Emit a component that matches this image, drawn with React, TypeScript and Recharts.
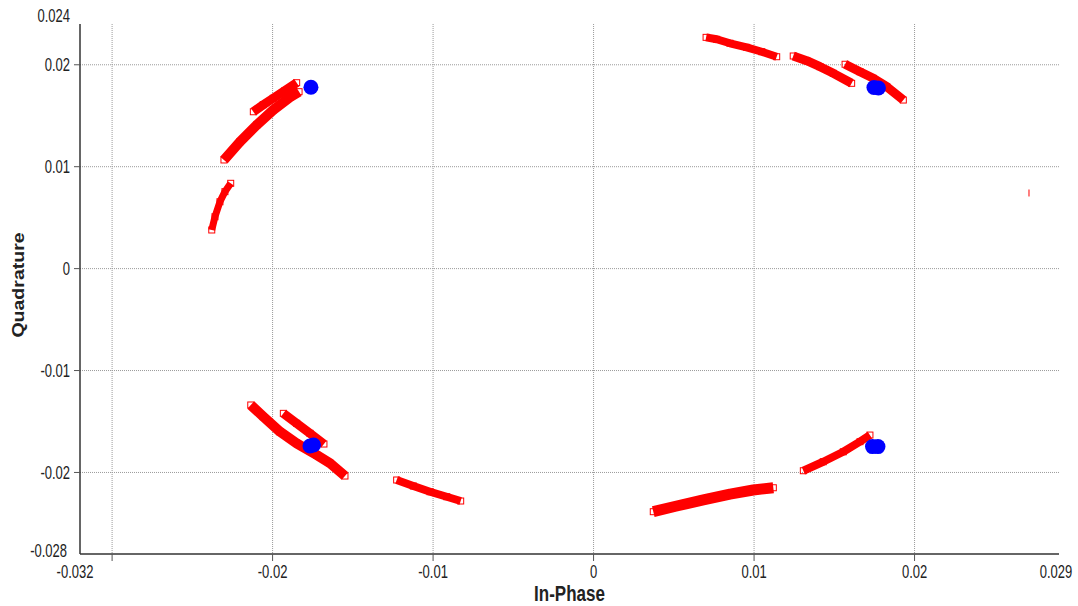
import { ScatterChart, Scatter, XAxis, YAxis, CartesianGrid } from 'recharts'

type Pt = { x: number; y: number }

const xTicks = [-0.032, -0.03, -0.02, -0.01, 0, 0.01, 0.02, 0.029]
const yTicks = [-0.028, -0.02, -0.01, 0, 0.01, 0.02, 0.024]
const xGrid = [-0.03, -0.02, -0.01, 0, 0.01, 0.02]
const yGrid = [-0.02, -0.01, 0, 0.01, 0.02]

// received symbols, one trace per arc
const arcTopLeftUpper: Pt[] = [
  { x: -0.0212, y: 0.01539 }, { x: -0.02058, y: 0.01608 }, { x: -0.01996, y: 0.01671 },
  { x: -0.01923, y: 0.01747 }, { x: -0.0185, y: 0.01824 },
]
const arcTopLeftLower: Pt[] = [
  { x: -0.02303, y: 0.01066 }, { x: -0.02203, y: 0.01245 }, { x: -0.02099, y: 0.01409 },
  { x: -0.01996, y: 0.01556 }, { x: -0.01892, y: 0.01681 }, { x: -0.01835, y: 0.01736 },
]
const arcLeftShort: Pt[] = [
  { x: -0.02379, y: 0.00379 }, { x: -0.02359, y: 0.00509 }, { x: -0.02328, y: 0.00656 },
  { x: -0.02297, y: 0.00755 }, { x: -0.02261, y: 0.00837 },
]
const arcTopA: Pt[] = [
  { x: 0.00701, y: 0.02269 }, { x: 0.00767, y: 0.0225 }, { x: 0.0085, y: 0.02211 },
  { x: 0.00954, y: 0.02171 }, { x: 0.01048, y: 0.02128 }, { x: 0.01141, y: 0.02079 },
]
const arcTopB: Pt[] = [
  { x: 0.01244, y: 0.02086 }, { x: 0.01328, y: 0.0204 }, { x: 0.01411, y: 0.01981 },
  { x: 0.01494, y: 0.01916 }, { x: 0.01608, y: 0.01818 },
]
const arcTopC: Pt[] = [
  { x: 0.01567, y: 0.02005 }, { x: 0.0166, y: 0.01932 }, { x: 0.01743, y: 0.01867 },
  { x: 0.01827, y: 0.01785 }, { x: 0.0193, y: 0.01654 },
]
const arcBottomLeftLong: Pt[] = [
  { x: -0.02136, y: -0.01338 }, { x: -0.02058, y: -0.01453 }, { x: -0.01954, y: -0.016 },
  { x: -0.0185, y: -0.01714 }, { x: -0.01725, y: -0.01829 }, { x: -0.01642, y: -0.0191 },
  { x: -0.01549, y: -0.02035 },
]
const arcBottomLeftShort: Pt[] = [
  { x: -0.01933, y: -0.0142 }, { x: -0.0185, y: -0.01518 }, { x: -0.01767, y: -0.01616 },
  { x: -0.0168, y: -0.01721 },
]
const arcBottomMid: Pt[] = [
  { x: -0.01227, y: -0.02074 }, { x: -0.01123, y: -0.02133 }, { x: -0.01019, y: -0.02189 },
  { x: -0.00915, y: -0.02238 }, { x: -0.00828, y: -0.0228 },
]
const arcBottomRightWide: Pt[] = [
  { x: 0.00372, y: -0.02385 }, { x: 0.00518, y: -0.02329 }, { x: 0.00684, y: -0.0227 },
  { x: 0.0085, y: -0.02212 }, { x: 0.00995, y: -0.02172 }, { x: 0.0112, y: -0.0215 },
]
const arcBottomRightUpper: Pt[] = [
  { x: 0.01307, y: -0.01983 }, { x: 0.01431, y: -0.01895 }, { x: 0.01556, y: -0.01797 },
  { x: 0.0166, y: -0.01698 }, { x: 0.01722, y: -0.01633 },
]

// reference constellation points
const idealPoints: Pt[] = [
  { x: -0.01761, y: 0.01779 },
  { x: 0.01747, y: 0.01777 }, { x: 0.01775, y: 0.01772 },
  { x: -0.01767, y: -0.01741 }, { x: -0.01745, y: -0.01731 },
  { x: 0.01738, y: -0.01746 }, { x: 0.01772, y: -0.01746 },
]
const strayPoint: Pt[] = [{ x: 0.02713, y: 0.00742 }]

const RED = '#ff0000'
const BLUE = '#0000ff'
const TEXT = '#222'

const bands = [
  { data: arcTopLeftLower, width: 10 },
  { data: arcTopLeftUpper, width: 9 },
  { data: arcLeftShort, width: 7 },
  { data: arcTopA, width: 8 },
  { data: arcTopB, width: 9 },
  { data: arcTopC, width: 9 },
  { data: arcBottomLeftLong, width: 10 },
  { data: arcBottomLeftShort, width: 9 },
  { data: arcBottomMid, width: 8 },
  { data: arcBottomRightWide, width: 11 },
  { data: arcBottomRightUpper, width: 8 },
]

const HollowSquare = (p: any) => (
  <rect x={p.cx - 3} y={p.cy - 3} width={6} height={6} fill="none" stroke={RED} strokeWidth={1} />
)
const Dot = (p: any) => <circle cx={p.cx} cy={p.cy} r={7.5} fill={BLUE} />
const Tick = (p: any) => <line x1={p.cx} x2={p.cx} y1={p.cy - 3.5} y2={p.cy + 3.5} stroke={RED} strokeWidth={1} />

function XTick({ x, y, payload }: any) {
  const v = payload.value
  const mark = v > -0.032 && v < 0.029
  const shift = v === -0.032 ? -5 : v === 0.029 ? -3 : 0
  return (
    <g>
      {mark && <line x1={x} x2={x} y1={y} y2={y + 7} stroke="#555" />}
      {v !== -0.03 && (
        <text transform={`translate(${x + shift},${y + 18}) scale(1,1.35)`} textAnchor="middle" dy="0.35em"
          fontSize={13} fill={TEXT}>{v}</text>
      )}
    </g>
  )
}

function YTick({ x, y, payload }: any) {
  const v = payload.value
  const mark = v > -0.028 && v < 0.024
  const dy = v === 0.024 ? -8 : v === -0.028 ? -3 : 0
  const dx = v === -0.028 ? -13 : -10
  return (
    <g>
      {mark && <line x1={x - 6} x2={x} y1={y} y2={y} stroke="#555" />}
      <text transform={`translate(${x + dx},${y + dy}) scale(1,1.35)`} textAnchor="end" dy="0.35em"
        fontSize={13} fill={TEXT}>{v}</text>
    </g>
  )
}

export default function App() {
  return (
    <div style={{ position: 'absolute', left: 0, top: 0, width: 1078, height: 606, fontFamily: '"Liberation Sans", Arial, sans-serif' }}>
      <ScatterChart width={1078} height={606} margin={{ top: 24, right: 19, bottom: 0, left: 0 }} style={{ overflow: 'visible' }}>
        <CartesianGrid horizontalValues={yGrid} verticalValues={xGrid} stroke="#9a9a9a" strokeDasharray="1 1" />
        <XAxis
          type="number" dataKey="x" domain={[-0.032, 0.029]} ticks={xTicks} interval={0} allowDataOverflow
          height={52} tickSize={0} tickMargin={0} tickLine={false} tick={<XTick />}
          axisLine={{ stroke: '#333', strokeWidth: 1.5 }}
          label={{
            content: ({ viewBox }: any) => (
              <text transform={`translate(${viewBox.x + viewBox.width / 2},${viewBox.y + 39}) scale(1,1.3)`}
                textAnchor="middle" dy="0.35em" fontSize={17} fontWeight="bold" fill={TEXT}>In-Phase</text>
            ),
          }}
        />
        <YAxis
          type="number" dataKey="y" domain={[-0.028, 0.024]} ticks={yTicks} interval={0} allowDataOverflow
          width={80} tickSize={0} tickMargin={0} tickLine={false} tick={<YTick />}
          axisLine={{ stroke: '#333', strokeWidth: 1.5 }}
          label={{
            content: ({ viewBox }: any) => (
              <text transform={`translate(18,${viewBox.y + viewBox.height / 2 - 4}) rotate(-90) scale(1.15,1)`}
                textAnchor="middle" dy="0.35em" fontSize={17} fontWeight="bold" fill={TEXT}>Quadrature</text>
            ),
          }}
        />
        {bands.map((b, i) => (
          <Scatter key={i} data={b.data} fill={RED} shape={HollowSquare} isAnimationActive={false}
            line={{ stroke: RED, strokeWidth: b.width, strokeLinejoin: 'round' }} />
        ))}
        <Scatter data={strayPoint} fill={RED} shape={Tick} isAnimationActive={false} />
        <Scatter data={idealPoints} fill={BLUE} shape={Dot} isAnimationActive={false} />
      </ScatterChart>
    </div>
  )
}
